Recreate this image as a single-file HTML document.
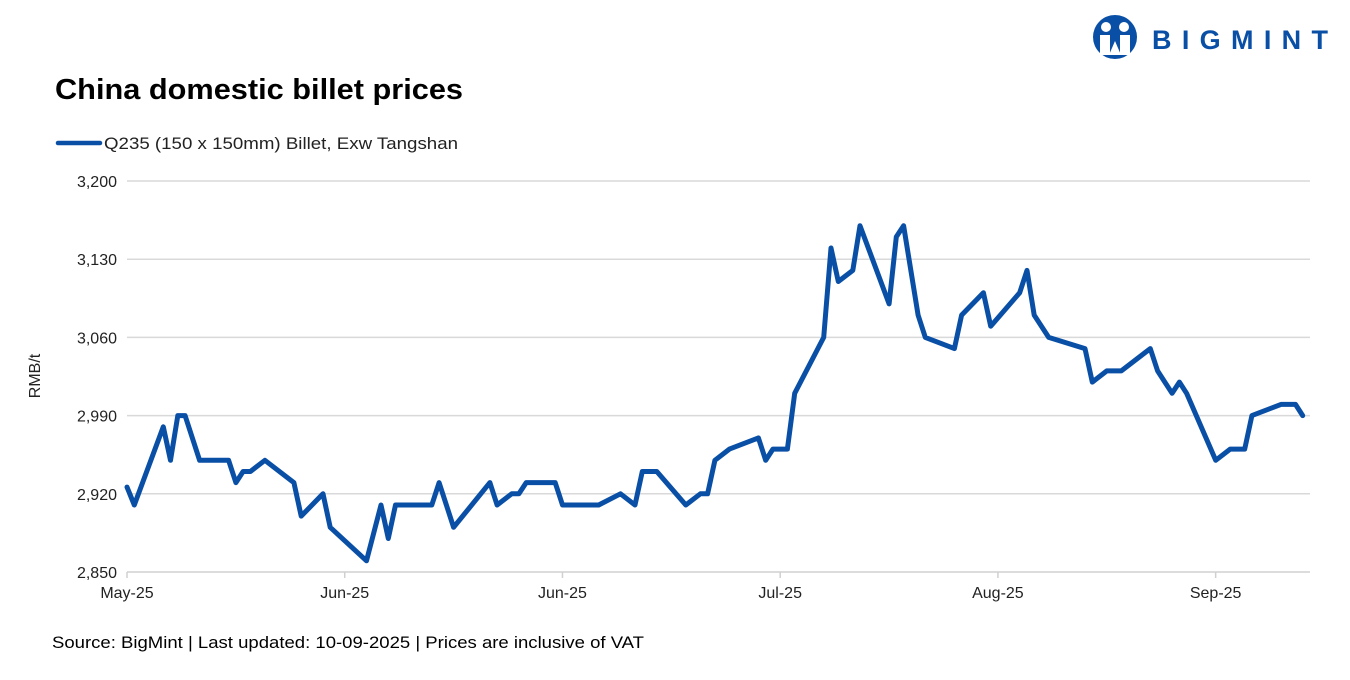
<!DOCTYPE html>
<html><head><meta charset="utf-8"><style>
body{margin:0;background:#fff;width:1350px;height:675px;overflow:hidden;font-family:"Liberation Sans",Arial,sans-serif}
</style></head><body>
<svg width="1350" height="675" xmlns="http://www.w3.org/2000/svg">
<g>
<circle cx="1115" cy="37" r="22" fill="#0a4fa6"/>
<circle cx="1106" cy="27" r="5" fill="#fff"/><circle cx="1124" cy="27" r="5" fill="#fff"/>
<path d="M1100 35 h10 v20 h-10z M1120 35 h10 v20 h-10z" fill="#fff"/>
<path d="M1109 55 l6-14 l6 14z" fill="#fff"/>
<text x="1152" y="49" font-size="27" font-weight="bold" fill="#0a4fa6" textLength="176" lengthAdjust="spacing">BIGMINT</text>
</g>
<text x="55" y="99" font-size="29" font-weight="bold" fill="#000" textLength="408" lengthAdjust="spacingAndGlyphs">China domestic billet prices</text>
<line x1="58" y1="143" x2="100" y2="143" stroke="#0a4fa6" stroke-width="4.5" stroke-linecap="round"/>
<text x="104" y="149" font-size="17" fill="#222" textLength="354" lengthAdjust="spacingAndGlyphs">Q235 (150 x 150mm) Billet, Exw Tangshan</text>
<text transform="translate(40,376) rotate(-90)" text-anchor="middle" font-size="16" fill="#222">RMB/t</text>
<g id="grid"></g><g id="axes"></g><g id="series"></g>
<text x="52" y="648" font-size="17" fill="#000" textLength="592" lengthAdjust="spacingAndGlyphs">Source: BigMint | Last updated: 10-09-2025 | Prices are inclusive of VAT</text>
</svg>
<script>
const days=[0,1,5,6,7,8,10,14,15,16,17,19,23,24,27,28,33,35,36,37,42,43,45,50,51,53,54,55,59,60,65,68,70,71,73,77,79,80,81,83,87,88,89,91,92,96,97,98,100,101,105,106,107,109,110,114,115,118,119,123,124,125,127,132,133,135,137,141,142,144,145,146,150,152,154,155,159,161,162];
const prices=[2926,2910,2980,2950,2990,2990,2950,2950,2930,2940,2940,2950,2930,2900,2920,2890,2860,2910,2880,2910,2910,2930,2890,2930,2910,2920,2920,2930,2930,2910,2910,2920,2910,2940,2940,2910,2920,2920,2950,2960,2970,2950,2960,2960,3010,3060,3140,3110,3120,3160,3090,3150,3160,3080,3060,3050,3080,3100,3070,3100,3120,3080,3060,3050,3020,3030,3030,3050,3030,3010,3020,3010,2950,2960,2960,2990,3000,3000,2990];
const yTicks=[2850,2920,2990,3060,3130,3200];
const yTickLabels=["2,850","2,920","2,990","3,060","3,130","3,200"];
const xTickDays=[0,30,60,90,120,150];
const xTickLabels=["May-25","Jun-25","Jun-25","Jul-25","Aug-25","Sep-25"];
const NS="http://www.w3.org/2000/svg";
const X0=127,X1=1310,D1=163,Y0=572,Y1=181,V0=2850,V1=3200;
const xs=d=>X0+(d/D1)*(X1-X0);
const ys=v=>Y0-(v-V0)/(V1-V0)*(Y0-Y1);
function mk(t,a,p){const e=document.createElementNS(NS,t);for(const k in a)e.setAttribute(k,a[k]);p.appendChild(e);return e;}
const grid=document.getElementById('grid'),axes=document.getElementById('axes'),series=document.getElementById('series');
yTicks.forEach((v,i)=>{
 if(i>0){const l=mk('line',{x1:X0,x2:X1,y1:ys(v),y2:ys(v),stroke:'#d9d9d9','stroke-width':1.5},grid);
 
 }
 const t=mk('text',{x:117,y:ys(v)+6,'text-anchor':'end','font-size':16,fill:'#222'},axes);t.textContent=yTickLabels[i];
 
 
});
const ax=mk('line',{x1:X0,x2:X1,y1:Y0,y2:Y0,stroke:'#d0d0d0','stroke-width':1.5},axes);


xTickDays.forEach((d,i)=>{
 const tk=mk('line',{x1:xs(d),x2:xs(d),y1:Y0,y2:Y0+6,stroke:'#d0d0d0','stroke-width':1.5},axes);
 
 
 const t=mk('text',{x:xs(d),y:598,'text-anchor':'middle','font-size':16,fill:'#222'},axes);t.textContent=xTickLabels[i];
 
 
});
const pts=days.map((d,i)=>xs(d).toFixed(1)+','+ys(prices[i]).toFixed(1)).join(' ');
const pl=mk('polyline',{points:pts,fill:'none',stroke:'#0a4fa6','stroke-width':5,'stroke-linejoin':'round','stroke-linecap':'round'},series);


</script>
</body></html>
